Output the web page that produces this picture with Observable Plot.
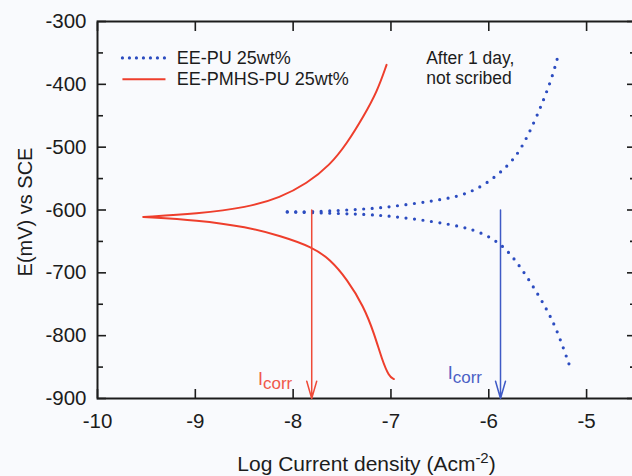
<!DOCTYPE html>
<html>
<head>
<meta charset="utf-8">
<script src="https://cdn.jsdelivr.net/npm/d3@7"></script>
<script src="https://cdn.jsdelivr.net/npm/@observablehq/plot@0.6"></script>
<style>
  html, body { margin: 0; padding: 0; background: #f9fafd; overflow: hidden; }
  #chart { width: 632px; height: 476px; overflow: hidden; }
  #chart svg { max-width: none !important; }
</style>
</head>
<body>
<div id="chart"></div>
<script>
// ---- data ----
const seriesNames = ["EE-PU 25wt%", "EE-PMHS-PU 25wt%"];

// EE-PMHS-PU 25wt% (red, solid)
const pmhsAnodicLogI = [-9.53, -8.98, -8.47, -8.13, -7.86, -7.62, -7.45, -7.28, -7.14, -7.045];
const pmhsAnodicE    = [-611, -606, -596, -580, -558, -528, -494, -451, -411, -369];
const pmhsCathodicLogI = [-9.53, -8.98, -8.47, -8.13, -7.80, -7.62, -7.45, -7.28, -7.17, -7.09, -7.02, -6.97];
const pmhsCathodicE    = [-611, -616, -627, -641, -659, -679, -710, -753, -797, -839, -865, -869];

// EE-PU 25wt% (blue, dotted)
const puAnodicLogI = [-8.06, -7.79, -7.45, -7.11, -6.77, -6.42, -6.22, -6.02, -5.81, -5.675, -5.54, -5.44, -5.35, -5.28];
const puAnodicE    = [-603, -603, -600, -597, -590, -582, -574, -558, -531, -505, -462, -425, -388, -348];
const puCathodicLogI = [-8.06, -7.45, -7.11, -6.77, -6.42, -6.15, -5.95, -5.81, -5.675, -5.54, -5.40, -5.30, -5.18];
const puCathodicE    = [-603, -606, -608, -614, -622, -631, -646, -664, -691, -723, -760, -792, -845];

// corrosion current markers (Icorr) : [EE-PU, EE-PMHS-PU]
const icorrLogI = [-5.88, -7.81];
const ecorrE = [-600, -600];

// axes
const xTicks = [-10, -9, -8, -7, -6, -5];
const yMajorTicks = [-300, -400, -500, -600, -700, -800, -900];
const yMinorTicks = [-350, -450, -550, -650, -750, -850];
const xLabel = "Log Current density (Acm-2)";
const yLabel = "E(mV) vs SCE";
const noteLines = ["After 1 day,", "not scribed"];

// ---- layout / style ----
const xDomain = [-10, -4.5];
const yDomain = [-900, -300];
const RED = "#ee3e2c", BLUE = "#2c4cc0";
const RED_ARROW = "#ef4a38", BLUE_ARROW = "#3f5ac6";
const RED_TEXT = "#f0584a", BLUE_TEXT = "#4b5fc5";
const INK = "#1c1c1c";
const FONT = "'Liberation Sans', Arial, Helvetica, sans-serif";
const layout = {
  legendLineX: [-9.74, -9.30], legendTextX: -9.19, legendE: [-358, -392],
  noteX: -6.64, noteE: [-359, -390],
  icorrLabelLogI: [-6.42, -8.36], icorrLabelE: [-859, -870]
};

// ---- tables built from the arrays ----
const rows = [];
function addBranch(series, branch, xs, ys) {
  xs.forEach((x, i) => rows.push({series, branch, logI: x, E: ys[i]}));
}
addBranch(seriesNames[1], "anodic", pmhsAnodicLogI, pmhsAnodicE);
addBranch(seriesNames[1], "cathodic", pmhsCathodicLogI, pmhsCathodicE);
addBranch(seriesNames[0], "anodic", puAnodicLogI, puAnodicE);
addBranch(seriesNames[0], "cathodic", puCathodicLogI, puCathodicE);
const pmhsRows = rows.filter(d => d.series === seriesNames[1]);
const puRows = rows.filter(d => d.series === seriesNames[0]);

const icorrRows = seriesNames.map((s, i) => ({
  series: s, logI: icorrLogI[i], E: ecorrE[i],
  color: i === 0 ? BLUE_ARROW : RED_ARROW,
  textColor: i === 0 ? BLUE_TEXT : RED_TEXT,
  lx: layout.icorrLabelLogI[i], le: layout.icorrLabelE[i]
}));

const legendRows = seriesNames.map((s, i) => ({series: s, E: layout.legendE[i]}));

const plot = Plot.plot({
  width: 640, height: 476,
  marginLeft: 97, marginRight: 5, marginTop: 21, marginBottom: 78,
  style: {fontFamily: FONT, background: "#f9fafd", color: INK, overflow: "visible"},
  x: {domain: xDomain},
  y: {domain: yDomain},
  marks: [
    // tick labels
    Plot.axisY(yMajorTicks, {tickSize: 0, tickPadding: 11, fontSize: 20.5, label: null, tickFormat: d => String(d)}),
    Plot.axisX(xTicks, {tickSize: 0, tickPadding: 15, fontSize: 20.5, label: null, tickFormat: d => String(d)}),
    // inward tick marks
    Plot.axisY(yMajorTicks, {tickSize: -9, fill: "none", label: null, stroke: INK, strokeWidth: 1.6}),
    Plot.axisY(yMinorTicks, {tickSize: -6, fill: "none", label: null, stroke: INK, strokeWidth: 1.6}),
    Plot.axisY(yMajorTicks, {anchor: "right", tickSize: -9, fill: "none", label: null, stroke: INK, strokeWidth: 1.6}),
    Plot.axisY(yMinorTicks, {anchor: "right", tickSize: -6, fill: "none", label: null, stroke: INK, strokeWidth: 1.6}),
    Plot.axisX(xTicks, {tickSize: -9, fill: "none", label: null, stroke: INK, strokeWidth: 1.6}),
    Plot.axisX(xTicks, {anchor: "top", tickSize: -9, fill: "none", label: null, stroke: INK, strokeWidth: 1.6}),
    Plot.frame({stroke: INK, strokeWidth: 2}),
    // axis labels
    Plot.text([yLabel], {text: d => d, frameAnchor: "left", textAnchor: "middle", lineAnchor: "middle",
      rotate: -90, dx: -72, dy: 2, fontSize: 20, fill: INK}),
    Plot.text([xLabel], {text: d => d, frameAnchor: "bottom", textAnchor: "middle", lineAnchor: "middle",
      dy: 66, fontSize: 21, fill: INK}),
    // curves
    Plot.line(pmhsRows, {x: "logI", y: "E", z: "branch", stroke: RED, strokeWidth: 2, curve: "basis"}),
    Plot.line(puRows, {x: "logI", y: "E", z: "branch", stroke: BLUE, strokeWidth: 3.2,
      strokeDasharray: "0 8.5", strokeLinecap: "round", curve: "basis"}),
    // Icorr arrows
    Plot.arrow(icorrRows, {x1: "logI", x2: "logI", y1: "E", y2: () => yDomain[0],
      stroke: "color", strokeWidth: 1.5, headLength: 18, headAngle: 32}),
    Plot.text(icorrRows, {x: "lx", y: "le", text: () => "Icorr", fill: "textColor",
      textAnchor: "start", fontSize: 18}),
    // legend
    Plot.ruleY([legendRows[0]], {y: "E", x1: () => layout.legendLineX[0], x2: () => layout.legendLineX[1],
      stroke: BLUE, strokeWidth: 3.2, strokeDasharray: "0 7", strokeLinecap: "round"}),
    Plot.ruleY([legendRows[1]], {y: "E", x1: () => layout.legendLineX[0], x2: () => layout.legendLineX[1],
      stroke: RED, strokeWidth: 2}),
    Plot.text(legendRows, {x: () => layout.legendTextX, y: "E", text: "series", textAnchor: "start", fontSize: 18, fill: INK}),
    // note
    Plot.text(noteLines, {x: () => layout.noteX, y: (d, i) => layout.noteE[i], text: d => d,
      textAnchor: "start", fontSize: 17.5, fill: INK})
  ]
});

// subscripts / superscripts as real text
const svg = d3.select(plot);
svg.selectAll("text").filter(function () { return this.textContent === "Icorr"; })
  .each(function () {
    const t = d3.select(this);
    t.text("I");
    t.append("tspan").attr("dy", 4).attr("font-size", 17).text("corr");
  });
svg.selectAll("text").filter(function () { return this.textContent === xLabel; })
  .each(function () {
    const t = d3.select(this);
    t.text("Log Current density (Acm");
    t.append("tspan").attr("dy", -8).attr("font-size", 15).text("-2");
    t.append("tspan").attr("dy", 8).text(")");
  });

document.getElementById("chart").appendChild(plot);
</script>
</body>
</html>
